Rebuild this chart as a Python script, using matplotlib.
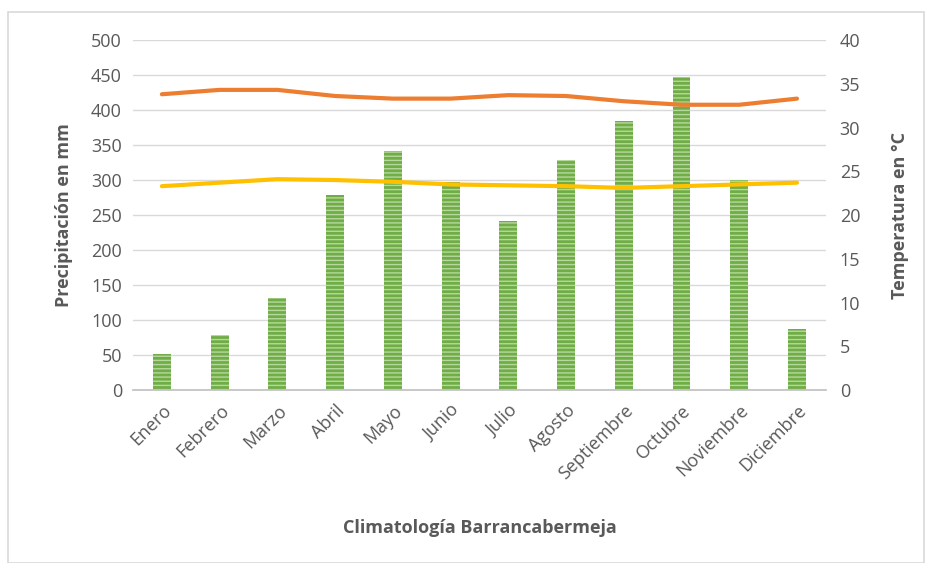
import numpy as np
import matplotlib.pyplot as plt

plt.rcParams['font.family'] = ['Open Sans', 'DejaVu Sans']

meses = ['Enero', 'Febrero', 'Marzo', 'Abril', 'Mayo', 'Junio', 'Julio',
         'Agosto', 'Septiembre', 'Octubre', 'Noviembre', 'Diciembre']
precipitacion = [52, 79, 131, 279, 341, 297, 241, 329, 385, 447, 300, 88]
temp_max = [33.8, 34.3, 34.3, 33.6, 33.3, 33.3, 33.7, 33.6, 33.0, 32.6, 32.6, 33.3]
temp_media = [23.3, 23.7, 24.1, 24.0, 23.8, 23.5, 23.4, 23.3, 23.1, 23.3, 23.5, 23.7]

gris = '#595959'
x = np.arange(len(meses))

fig = plt.figure(figsize=(9.25, 5.63), dpi=100)
ax = fig.add_axes([0.1438, 0.307, 0.749, 0.622])

ax.bar(x, precipitacion, width=0.31, color='#70AD47', edgecolor='#B5D99C',
       linewidth=0, hatch='----', zorder=2)
ax.set_ylim(0, 500)
ax.set_yticks(range(0, 501, 50))
ax.set_xlim(-0.5, 11.5)
ax.set_xticks(x)
ax.set_xticklabels(meses, rotation=45, ha='right', rotation_mode='anchor')
ax.grid(axis='y', color='#D9D9D9', linewidth=1, zorder=0)
for s in ['top', 'right', 'left']:
    ax.spines[s].set_visible(False)
ax.spines['bottom'].set_color('#BFBFBF')
ax.spines['bottom'].set_linewidth(1.2)
ax.tick_params(axis='both', length=0, colors=gris, labelsize=13, pad=8)
ax.set_ylabel('Precipitación en mm', fontsize=13, fontweight='bold', color=gris,
              labelpad=13)
ax.set_xlabel('Climatología Barrancabermeja', fontsize=13, fontweight='bold',
              color=gris, labelpad=26)

ax2 = ax.twinx()
ax2.plot(x, temp_max, color='#ED7D31', linewidth=3, solid_capstyle='round', zorder=3)
ax2.plot(x, temp_media, color='#FFC000', linewidth=3, solid_capstyle='round', zorder=3)
ax2.set_ylim(0, 40)
ax2.set_yticks(range(0, 41, 5))
for s in ax2.spines.values():
    s.set_visible(False)
ax2.tick_params(axis='y', length=0, colors=gris, labelsize=13, pad=10)
ax2.set_ylabel('Temperatura en °C', fontsize=13, fontweight='bold', color=gris,
               labelpad=22)

fig.patches.append(plt.Rectangle((0.009, 0.0), 0.99, 0.978, transform=fig.transFigure,
                                 fill=False, edgecolor='#D9D9D9', linewidth=1.2))

fig.savefig('out.png', dpi=100)
